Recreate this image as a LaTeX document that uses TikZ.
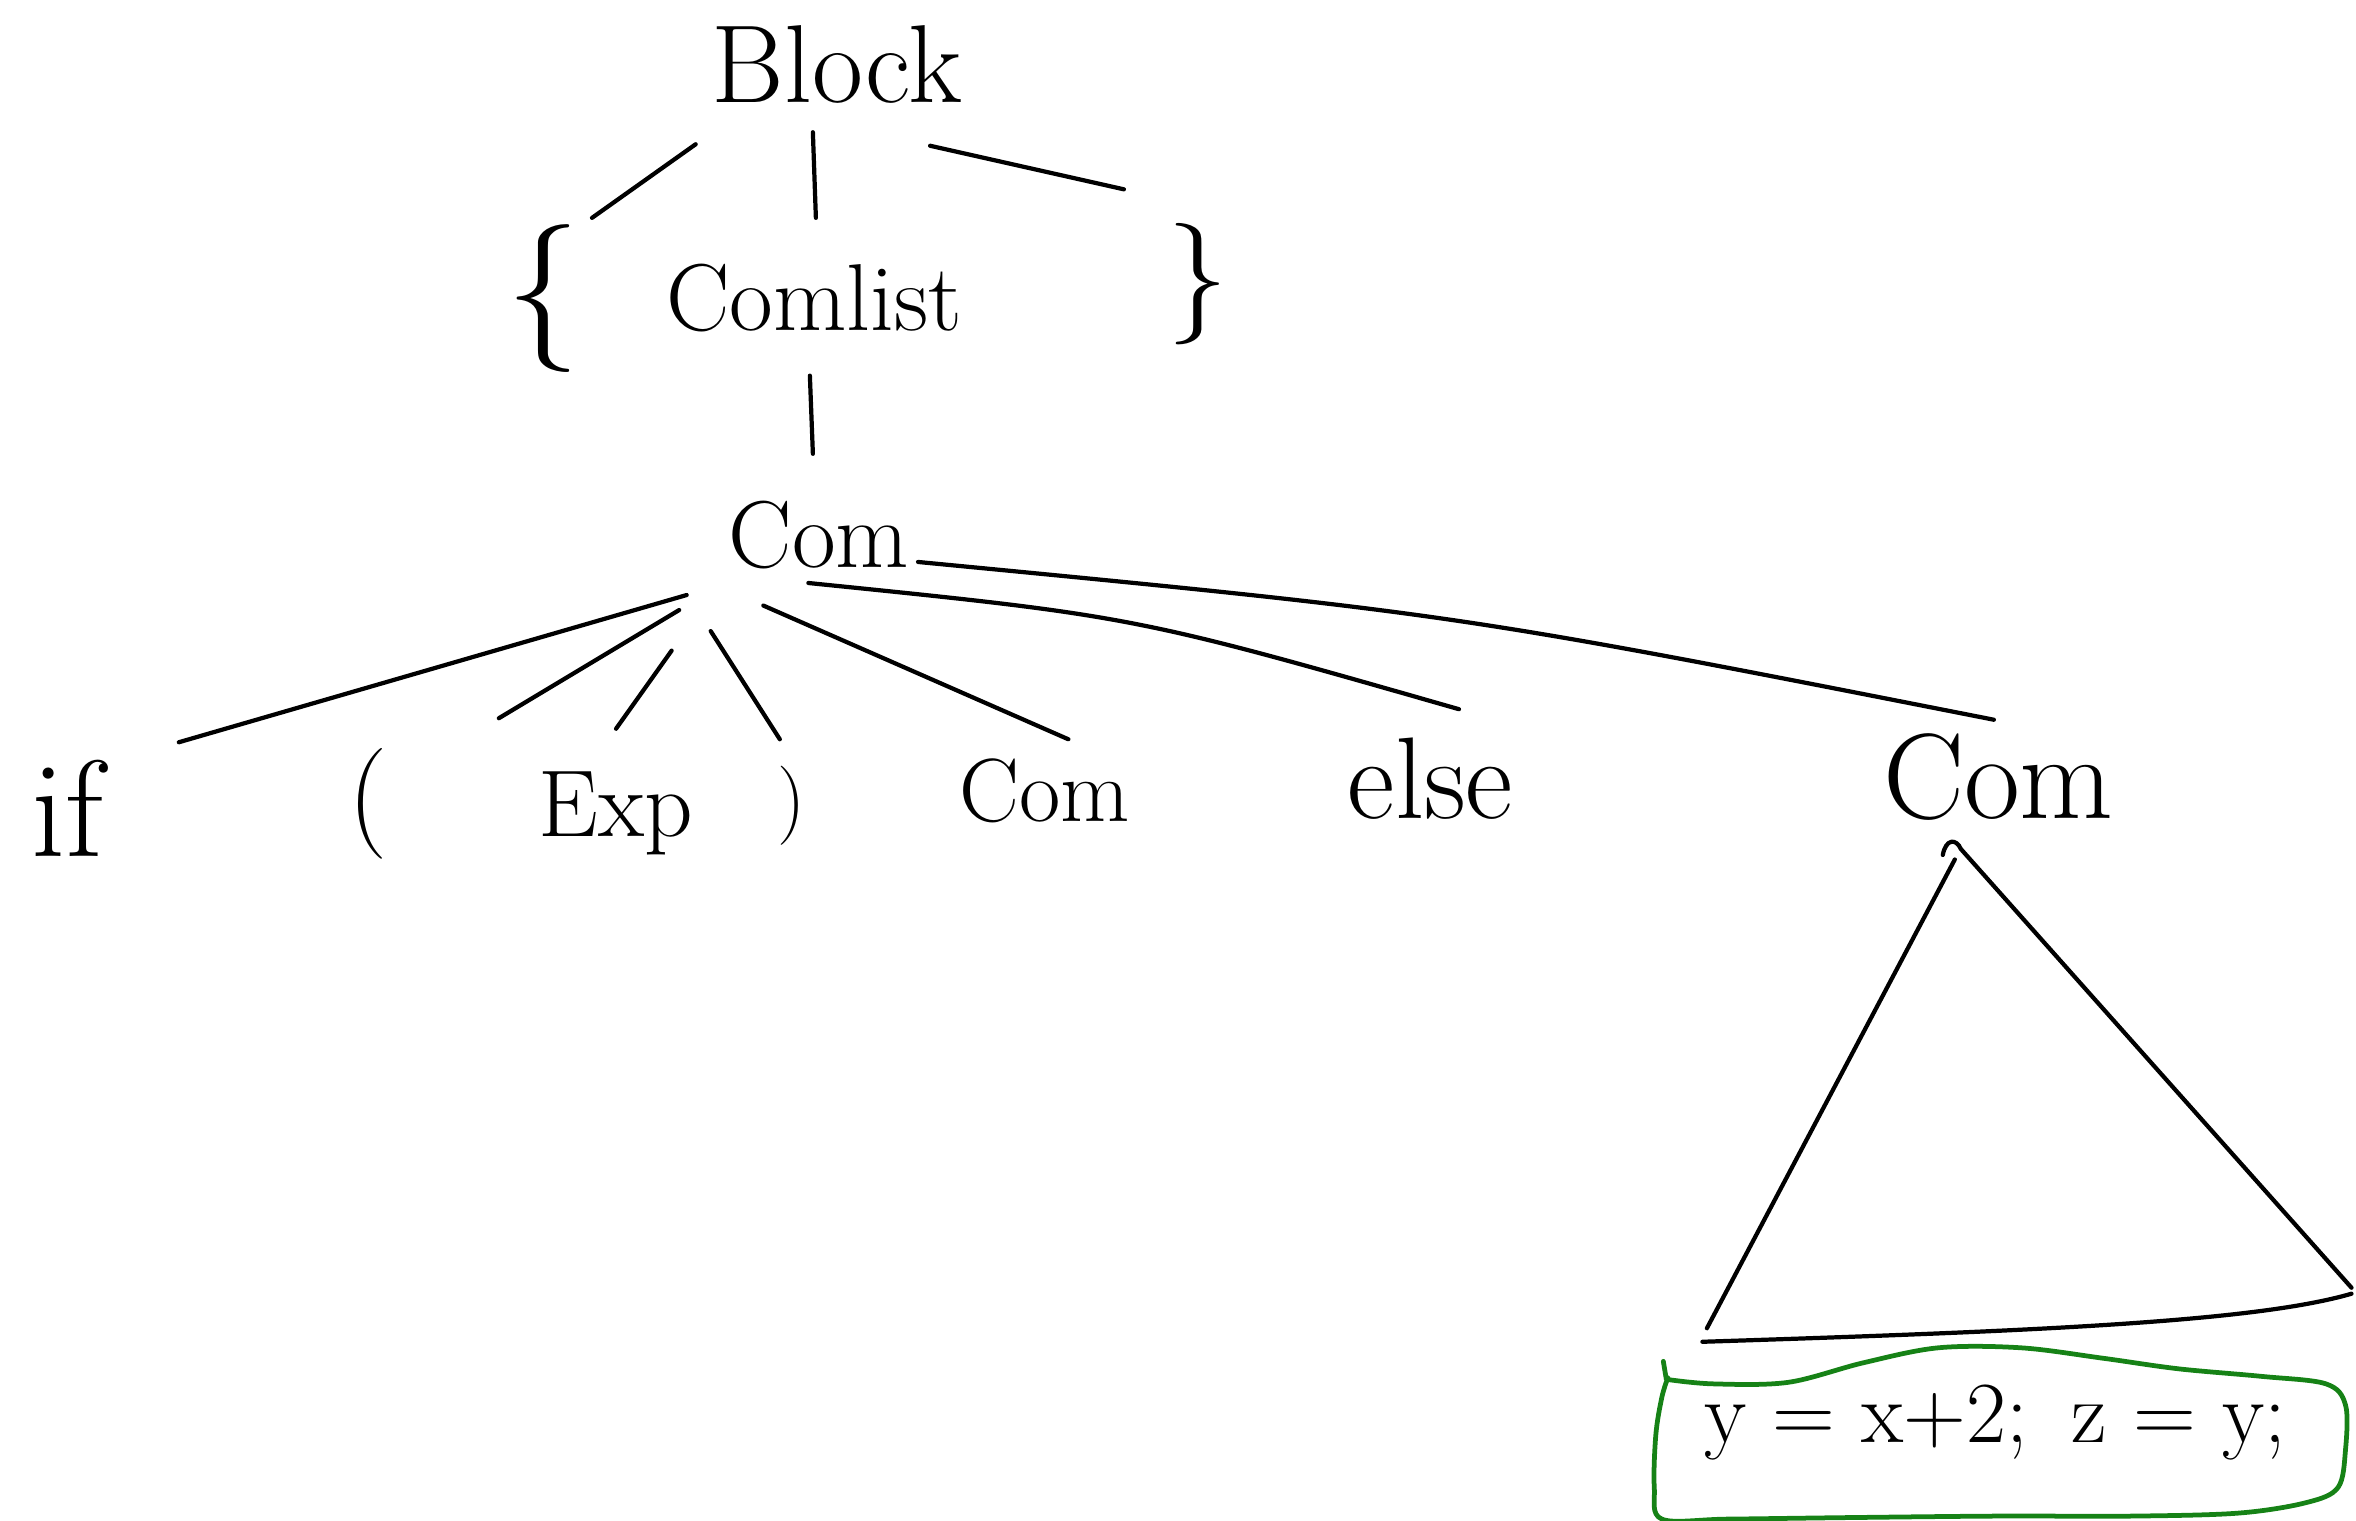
\documentclass[tikz,border=0pt]{standalone}
\usetikzlibrary{calc}
\definecolor{boxgreen}{RGB}{22,130,22}
\tikzset{
  lab/.style={inner sep=0pt, anchor=base},
  sym/.style={inner sep=0pt, anchor=center},
  edge/.style={line width=0.8pt, line cap=round, line join=round},
  codebox/.style={draw=boxgreen, line width=0.9pt, line cap=round, line join=round},
}
\newcommand{\fsz}[1]{\fontsize{#1}{#1}\selectfont}
\begin{document}
\begin{tikzpicture}[x=0.1mm,y=-0.1mm]
\useasboundingbox (0,0) rectangle (1568,1012);
% nodes
\node[lab,font=\fsz{21}] (block) at (557,68) {Block};
\node[sym,font=\fsz{28}] (lbrace) at (362,199) {\{};
\node[lab,font=\fsz{18}] (comlist) at (542,220) {Comlist};
\node[sym,font=\fsz{23}] (rbrace) at (797,189) {\}};
\node[lab,font=\fsz{18}] (com) at (545,378) {Com};
\node[lab,font=\fsz{26}] (if) at (45,570) {if};
\node[sym,font=\fsz{21}] (lpar) at (245,535) {(};
\node[lab,font=\fsz{18}] (exp) at (410,557) {Exp};
\node[sym,font=\fsz{15}] (rpar) at (527,536) {)};
\node[lab,font=\fsz{17}] (com2) at (695,547) {Com};
\node[lab,font=\fsz{22}] (else) at (952,545) {else};
\node[lab,font=\fsz{23}] (com3) at (1330,545) {Com};
\node[lab,font=\fsz{16.5}] (code) at (1328,960) {y = x+2;\enspace z = y;};
% connectors from Block
\draw[edge] ($(block.base)+(-94,28)$) -- ($(lbrace.center)+(32,-54)$);
\draw[edge] ($(block.base)+(-16,20)$) -- ($(comlist.base)+(1,-75)$);
\draw[edge] ($(block.base)+(62,29)$) -- ($(rbrace.center)+(-49,-63)$);
% Comlist -> Com
\draw[edge] ($(comlist.base)+(-3,30)$) -- ($(com.base)+(-4,-76)$);
% Com -> children
\draw[edge] ($(com.base)+(-88,18)$) -- ($(if.base)+(74,-76)$);
\draw[edge] ($(com.base)+(-93,28)$) -- ($(lpar.center)+(87,-57)$);
\draw[edge] ($(com.base)+(-98,55)$) -- ($(exp.base)+(0,-72)$);
\draw[edge] ($(com.base)+(-72,42)$) -- ($(rpar.center)+(-8,-44)$);
\draw[edge] ($(com.base)+(-37,25)$) -- ($(com2.base)+(16,-55)$);
\coordinate (ea) at ($(com.base)+(-7,10)$);
\coordinate (eb) at ($(else.base)+(19,-73)$);
\draw[edge] (ea) .. controls ($(ea)!0.5!(eb)+(0,-20)$) .. (eb);
\coordinate (fa) at ($(com.base)+(66,-4)$);
\coordinate (fb) at ($(com3.base)+(-3,-66)$);
\draw[edge] (fa) .. controls ($(fa)!0.5!(fb)+(0,-18)$) .. (fb);
% triangle below the right Com
\coordinate (triL) at (1136,884);
\coordinate (triR) at (1565,857);
\draw[edge] ($(com3.base)+(-29,27)$) -- (triL);
\draw[edge] ($(com3.base)+(-37,24)$) .. controls ($(com3.base)+(-35,13)$) and ($(com3.base)+(-28,13)$) .. ($(com3.base)+(-25,20)$) -- (triR);
\draw[edge] (1133,893) .. controls (1350,886) and (1500,880) .. (1565,861);
% green outline round the code
\draw[codebox] (1107,906) -- (1109,918)
  plot[smooth, tension=0.55] coordinates {(1109,918) (1140,921) (1190,920) (1240,907) (1290,897) (1345,897) (1400,904) (1450,911) (1505,916) (1548,921) (1561,935) (1561,965) (1556,990) (1535,1000) (1490,1007) (1420,1009) (1330,1009) (1230,1010) (1150,1011) (1106,1011) (1101,990) (1102,955) (1106,930) (1110,917)};
\end{tikzpicture}
\end{document}
